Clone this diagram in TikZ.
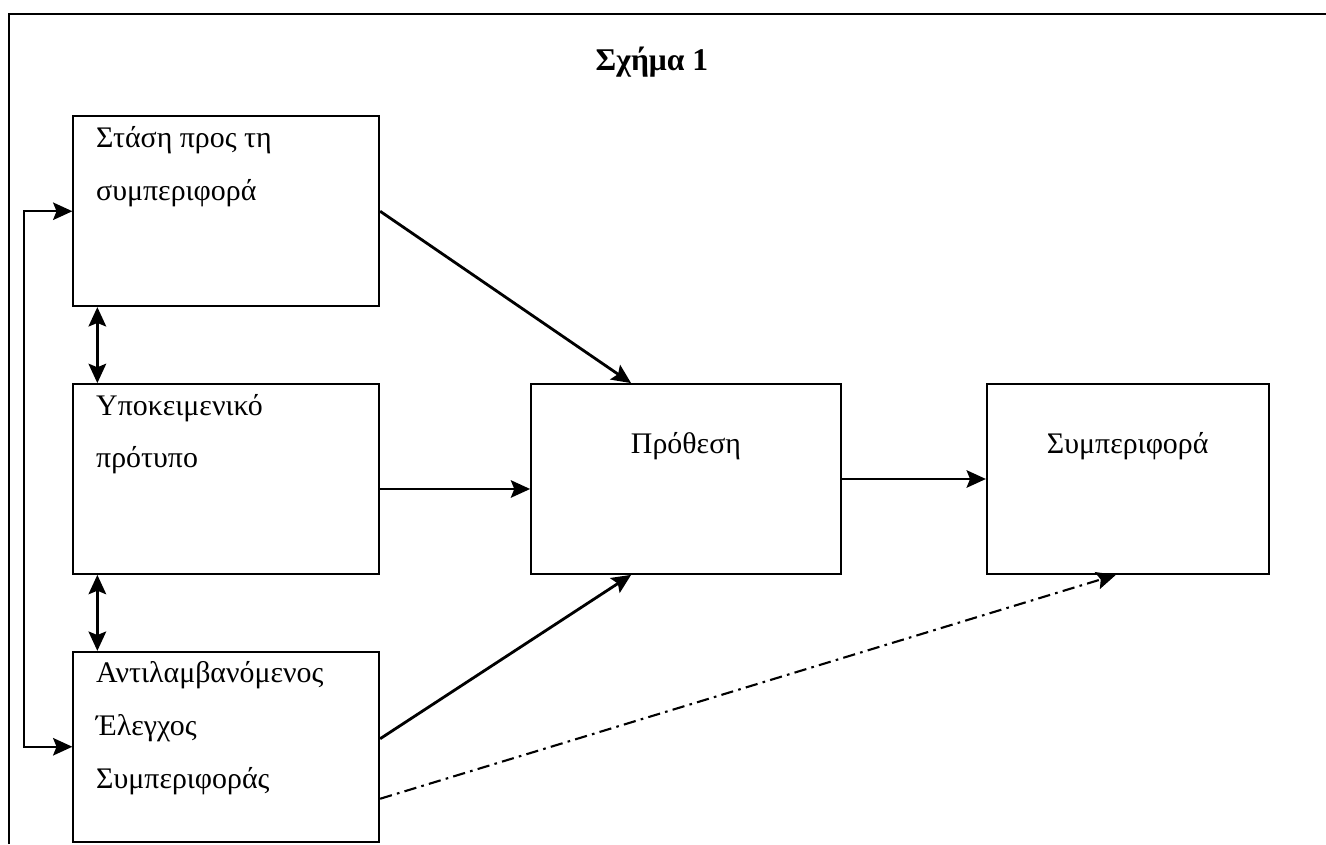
\documentclass[tikz,border=0pt]{standalone}
\usepackage{fontspec}
\setmainfont{Liberation Serif}
\usepackage{tikz}
\usetikzlibrary{matrix}
\usetikzlibrary{arrows.meta}

\tikzset{
	arr/.style={-{Stealth[length=11pt,width=10pt,inset=2pt]}},
	darr/.style={{Stealth[length=11pt,width=10pt,inset=2pt]}-{Stealth[length=11pt,width=10pt,inset=2pt]}}
}
\newcommand{\boxtxt}[1]{\parbox[c][3.4cm][t]{5.2cm}{\fontsize{17}{30}\selectfont #1}}
\newcommand{\midtxt}[1]{\parbox[c][3.4cm][t]{5.2cm}{\centering\fontsize{17}{30}\selectfont\vspace*{0.76cm}#1}}

\begin{document}
\begin{tikzpicture}
		\useasboundingbox (0,0) rectangle (26.52,-16.88);
		\draw[line width=1.4pt] (0.18,-16.88) |- (26.52,-0.28);
		\node[font=\bfseries\fontsize{18}{20}\selectfont] (title) at (13.04,-1.24) {Σχήμα 1};
		\matrix[matrix of nodes,anchor=north west,inner sep=0pt,
			nodes={draw,line width=1pt,anchor=center,minimum height=3.8cm,inner sep=0pt},
			column 1/.style={nodes={minimum width=6.12cm}},
			column 2/.style={nodes={minimum width=6.2cm}},
			column 3/.style={nodes={minimum width=5.64cm}},
			row sep=1.52cm,column sep=3cm,ampersand replacement=\&] at (1.44,-2.3)
		{
			|(att)| \boxtxt{Στάση προς τη\\συμπεριφορά} \& \&[-0.12cm] \\
			|(norm)| \boxtxt{Υποκειμενικό\\πρότυπο} \& |(int)| \midtxt{Πρόθεση} \&[-0.12cm] |(beh)| \midtxt{Συμπεριφορά} \\
			|(pbc)| \boxtxt{Αντιλαμβανόμενος\\Έλεγχος\\Συμπεριφοράς} \& \&[-0.12cm] \\
		};
		\coordinate (nb) at ([yshift=-0.2cm]norm.east);
		\draw[arr,line width=1.6pt] (att.east) -- ([xshift=2.02cm]int.north west);
		\draw[arr,line width=1pt] (nb) -- (nb -| int.west);
		\draw[arr,line width=1.6pt] ([yshift=0.16cm]pbc.east) -- ([xshift=2.02cm]int.south west);
		\draw[arr,line width=1pt] (int.east) -- (int.east -| beh.west);
		\draw[arr,line width=1.2pt,dash pattern=on 7pt off 3pt on 1.5pt off 3pt] ([yshift=-1.04cm]pbc.east) -- ([xshift=2.6cm]beh.south west);
		\draw[darr,line width=1.6pt] ([xshift=0.5cm]att.south west) -- ([xshift=0.5cm]norm.north west);
		\draw[darr,line width=1.6pt] ([xshift=0.5cm]norm.south west) -- ([xshift=0.5cm]pbc.north west);
		\draw[darr,line width=1pt] (att.west) -- ++(-0.96,0) |- (pbc.west);
		
		\end{tikzpicture}
\end{document}
